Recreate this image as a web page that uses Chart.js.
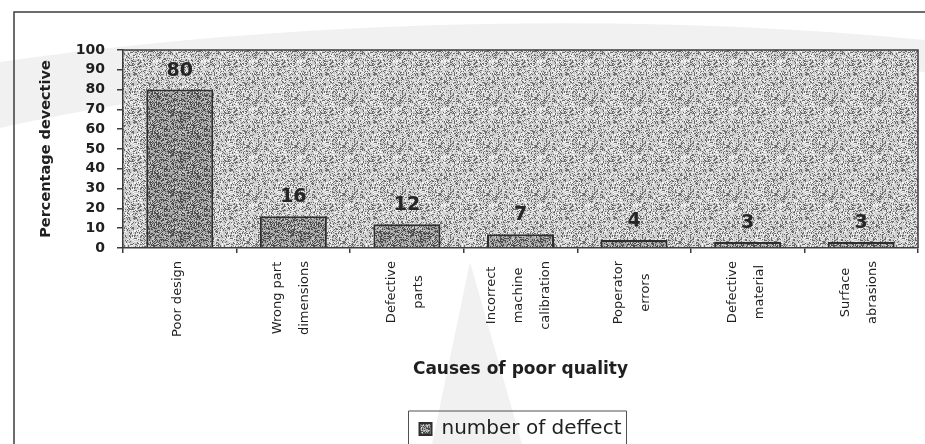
<!DOCTYPE html>
<html>
<head>
<meta charset="utf-8">
<script src="https://cdn.jsdelivr.net/npm/chart.js@4"></script>
<style>
  html, body { margin: 0; padding: 0; background: #ffffff; }
  #wrap { width: 925px; height: 444px; position: relative; }
</style>
</head>
<body>
<div id="wrap"><canvas id="chart" width="925" height="444"></canvas></div>
<script>
// Causes of poor quality and how often each one was found
const causes = [
  ["Poor design"],
  ["Wrong part", "dimensions"],
  ["Defective", "parts"],
  ["Incorrect", "machine", "calibration"],
  ["Poperator", "errors"],
  ["Defective", "material"],
  ["Surface", "abrasions"]
];
const defectCounts = [80, 16, 12, 7, 4, 3, 3];
const seriesName = "number of deffect";
const yTitle = "Percentage devective";
const xTitle = "Causes of poor quality";
const yMin = 0, yMax = 100, yStep = 10;

const INK = '#1f1f1f';
const FRAME = '#3c3c3c';

// Grainy fills built from a small fixed tile (hash-based dot layout)
function hash(x, y) {
  let h = (x * 374761393 + y * 668265263) | 0;
  h = (h ^ (h >>> 13)) * 1274126177 | 0;
  return ((h ^ (h >>> 16)) >>> 0) / 4294967296;
}
function makeTile(size, base, dark, darkShare, light, lightShare, salt) {
  const c = document.createElement('canvas');
  c.width = size; c.height = size;
  const g = c.getContext('2d');
  g.fillStyle = base;
  g.fillRect(0, 0, size, size);
  for (let y = 0; y < size; y++) {
    for (let x = 0; x < size; x++) {
      const v = hash(x + salt, y + salt * 3);
      if (v < darkShare) { g.fillStyle = dark; g.fillRect(x, y, 1, 1); }
      else if (v > 1 - lightShare) { g.fillStyle = light; g.fillRect(x, y, 1, 1); }
    }
  }
  return g.createPattern(c, 'repeat');
}
const plotFill = makeTile(48, '#cdcdcd', '#6c6c6c', 0.26, '#f3f3f3', 0.22, 7);
const barFill = makeTile(40, '#a6a6a6', '#4c4c4c', 0.40, '#d4d4d4', 0.14, 19);

// Page frame, faint background sweeps and plot area fill
const backdrop = {
  id: 'backdrop',
  beforeDraw(chart) {
    const { ctx, chartArea: a, width, height } = chart;
    ctx.save();
    ctx.fillStyle = 'rgba(232,232,232,0.6)';
    ctx.beginPath();
    ctx.moveTo(0, 62);
    ctx.bezierCurveTo(250, 25, 600, 8, 925, 40);
    ctx.lineTo(925, 72);
    ctx.bezierCurveTo(600, 42, 250, 72, 0, 128);
    ctx.closePath();
    ctx.fill();
    ctx.beginPath();
    ctx.moveTo(432, 444);
    ctx.lineTo(522, 444);
    ctx.lineTo(470, 262);
    ctx.closePath();
    ctx.fill();
    ctx.strokeStyle = FRAME;
    ctx.lineWidth = 1.5;
    ctx.beginPath();
    ctx.moveTo(14, height);
    ctx.lineTo(14, 12);
    ctx.lineTo(width, 12);
    ctx.stroke();
    ctx.fillStyle = plotFill;
    ctx.fillRect(a.left, a.top, a.right - a.left, a.bottom - a.top);
    ctx.restore();
  },
  afterDraw(chart) {
    const { ctx, chartArea: a } = chart;
    ctx.save();
    ctx.strokeStyle = FRAME;
    ctx.lineWidth = 1.5;
    ctx.beginPath();
    ctx.moveTo(a.left, a.top);
    ctx.lineTo(a.right, a.top);
    ctx.lineTo(a.right, a.bottom);
    ctx.stroke();
    // frame around the legend, open at the page bottom
    const lg = chart.legend;
    if (lg && lg.legendHitBoxes && lg.legendHitBoxes.length) {
      const hb = lg.legendHitBoxes[0];
      const cy = hb.top + hb.height / 2;
      ctx.lineWidth = 1;
      ctx.strokeStyle = '#505050';
      ctx.beginPath();
      ctx.moveTo(hb.left - 11, chart.height + 2);
      ctx.lineTo(hb.left - 11, cy - 18);
      ctx.lineTo(hb.left + hb.width + 5, cy - 18);
      ctx.lineTo(hb.left + hb.width + 5, chart.height + 2);
      ctx.stroke();
    }
    ctx.restore();
  }
};

// Rotated, centred category names under each bar
const causeLabels = {
  id: 'causeLabels',
  afterDraw(chart) {
    const { ctx } = chart;
    const xs = chart.scales.x;
    const top = xs.top + 13;
    const gap = 27;
    ctx.save();
    ctx.font = '13px "DejaVu Sans"';
    ctx.fillStyle = INK;
    ctx.textAlign = 'center';
    ctx.textBaseline = 'middle';
    causes.forEach((lines, i) => {
      const cx = xs.getPixelForValue(i) - 2;
      const longest = Math.max(...lines.map(t => ctx.measureText(t).width));
      const cy = top + longest / 2;
      lines.forEach((t, j) => {
        const lx = cx + (j - (lines.length - 1) / 2) * gap;
        ctx.save();
        ctx.translate(lx, cy);
        ctx.rotate(-Math.PI / 2);
        ctx.fillText(t, 0, 0);
        ctx.restore();
      });
    });
    ctx.restore();
  }
};

// Value printed above each bar
const valueLabels = {
  id: 'valueLabels',
  afterDatasetsDraw(chart) {
    const { ctx } = chart;
    const meta = chart.getDatasetMeta(0);
    ctx.save();
    ctx.font = 'bold 19px "DejaVu Sans"';
    ctx.fillStyle = '#262626';
    ctx.textAlign = 'center';
    ctx.textBaseline = 'middle';
    meta.data.forEach((bar, i) => {
      ctx.fillText(String(defectCounts[i]), bar.x, bar.y - 19);
    });
    ctx.restore();
  }
};

new Chart(document.getElementById('chart'), {
  type: 'bar',
  data: {
    labels: causes.map(l => l.join(' ')),
    datasets: [{
      label: seriesName,
      data: defectCounts,
      backgroundColor: barFill,
      borderColor: '#2e2e2e',
      borderWidth: 2,
      categoryPercentage: 1,
      barPercentage: 0.59
    }]
  },
  options: {
    responsive: false,
    animation: false,
    layout: { padding: { left: 34, top: 50, right: 7, bottom: -5 } },
    plugins: {
      tooltip: { enabled: false },
      legend: {
        position: 'bottom',
        fullSize: false,
        labels: {
          color: INK,
          font: { family: '"DejaVu Sans"', size: 20 },
          boxWidth: 12,
          boxHeight: 12,
          padding: 10
        }
      }
    },
    scales: {
      y: {
        min: yMin,
        max: yMax,
        ticks: {
          stepSize: yStep,
          color: INK,
          padding: 12,
          font: { family: '"DejaVu Sans"', size: 14, weight: 'bold' }
        },
        grid: { drawOnChartArea: false, drawTicks: true, tickLength: 6, color: FRAME, lineWidth: 1.5 },
        border: { color: FRAME, width: 1.5 },
        title: {
          display: true,
          text: yTitle,
          color: INK,
          font: { family: '"DejaVu Sans"', size: 14.5, weight: 'bold' },
          padding: { top: 4, bottom: 4 }
        },
        afterFit(scale) { scale.width = 89; }
      },
      x: {
        ticks: { display: false },
        grid: { offset: true, drawOnChartArea: false, drawTicks: true, tickLength: 5, color: FRAME, lineWidth: 1.5 },
        border: { color: FRAME, width: 1.5 },
        title: {
          display: true,
          text: xTitle,
          color: INK,
          font: { family: '"DejaVu Sans"', size: 17, weight: 'bold' },
          padding: { top: 0, bottom: 29 }
        },
        afterFit(scale) { scale.height = 161; }
      }
    }
  },
  plugins: [backdrop, valueLabels, causeLabels]
});
</script>
</body>
</html>
